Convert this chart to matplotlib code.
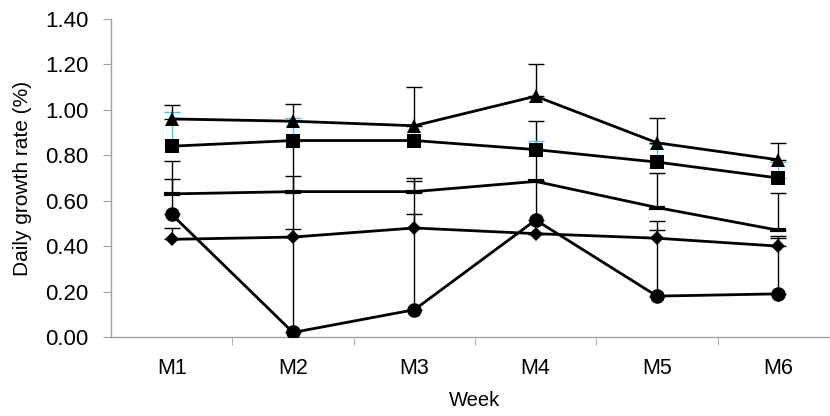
import matplotlib.pyplot as plt
import numpy as np

# Дані
weeks = ['M1', 'M2', 'M3', 'M4', 'M5', 'M6']

tri = [0.96, 0.95, 0.93, 1.06, 0.855, 0.78]
tri_err = [0.06, 0.075, 0.17, 0.14, 0.11, 0.075]

sq = [0.84, 0.865, 0.865, 0.825, 0.77, 0.70]
sq_err = [0.15, 0.10, 0.07, 0.04, 0.08, 0.07]

dash = [0.63, 0.64, 0.64, 0.685, 0.57, 0.47]
dash_err = [0.145, 0.07, 0.045, 0.0, 0.15, 0.165]

dia = [0.43, 0.44, 0.48, 0.455, 0.435, 0.40]
dia_err = [0.05, 0.035, 0.06, 0.0, 0.035, 0.035]

circ = [0.54, 0.02, 0.12, 0.515, 0.18, 0.19]
circ_err = [0.155, 0.845, 0.58, 0.435, 0.33, 0.255]

plt.rcParams['font.family'] = ['Liberation Sans', 'DejaVu Sans']

fig = plt.figure(figsize=(8.3, 4.16), dpi=100)
ax = fig.add_axes([111 / 830, 79 / 416, 728 / 830, 318 / 416])

x = np.arange(len(weeks))
zero = [0] * len(weeks)

series = [
    (circ, circ_err, 'o', 10.5, 'black'),
    (dia, dia_err, 'D', 7, 'black'),
    (dash, dash_err, '_', 12, 'black'),
    (sq, sq_err, 's', 10, '#33ccee'),
    (tri, tri_err, '^', 10.5, 'black'),
]

# спочатку вуса похибок, потім лінії з маркерами
for y, e, m, ms, ecol in series:
    ax.errorbar(x, y, yerr=[zero, e], fmt='none', ecolor=ecol,
                elinewidth=1, capsize=5.5, capthick=1, zorder=2)

for y, e, m, ms, ecol in series:
    mew = 3 if m == '_' else 0
    ax.plot(x, y, color='black', linewidth=2, marker=m, markersize=ms,
            markerfacecolor='black', markeredgecolor='black',
            markeredgewidth=mew, zorder=3)

ax.set_xlim(-0.5, len(weeks) - 0.5)
ax.set_ylim(0, 1.4)
ax.set_yticks(np.arange(0, 1.41, 0.2))
ax.set_yticklabels([f'{v:.2f}' for v in np.arange(0, 1.41, 0.2)])
ax.set_xticks(x)
ax.set_xticklabels(weeks)
ax.set_xticks(np.arange(0.5, len(weeks) - 0.5), minor=True)

for s in ['top', 'right']:
    ax.spines[s].set_visible(False)
for s in ['left', 'bottom']:
    ax.spines[s].set_color('#a0a0a0')
    ax.spines[s].set_linewidth(1)

ax.tick_params(axis='y', direction='out', length=6, color='#a0a0a0',
               labelsize=16, pad=10)
ax.tick_params(axis='x', which='major', length=0, labelsize=15.5, pad=15)
ax.tick_params(axis='x', which='minor', direction='out', length=6,
               color='#a0a0a0')

ax.set_ylabel('Daily growth rate (%)', fontsize=15)
ax.set_xlabel('Week', fontsize=14.5)
ax.yaxis.set_label_coords((23 - 111) / 728, 0.5)
ax.xaxis.set_label_coords((475 - 111) / 728, (337 - 400) / 318)
ax.xaxis.label.set_va('center')
ax.yaxis.label.set_va('center')

fig.savefig('out.png', dpi=100)
